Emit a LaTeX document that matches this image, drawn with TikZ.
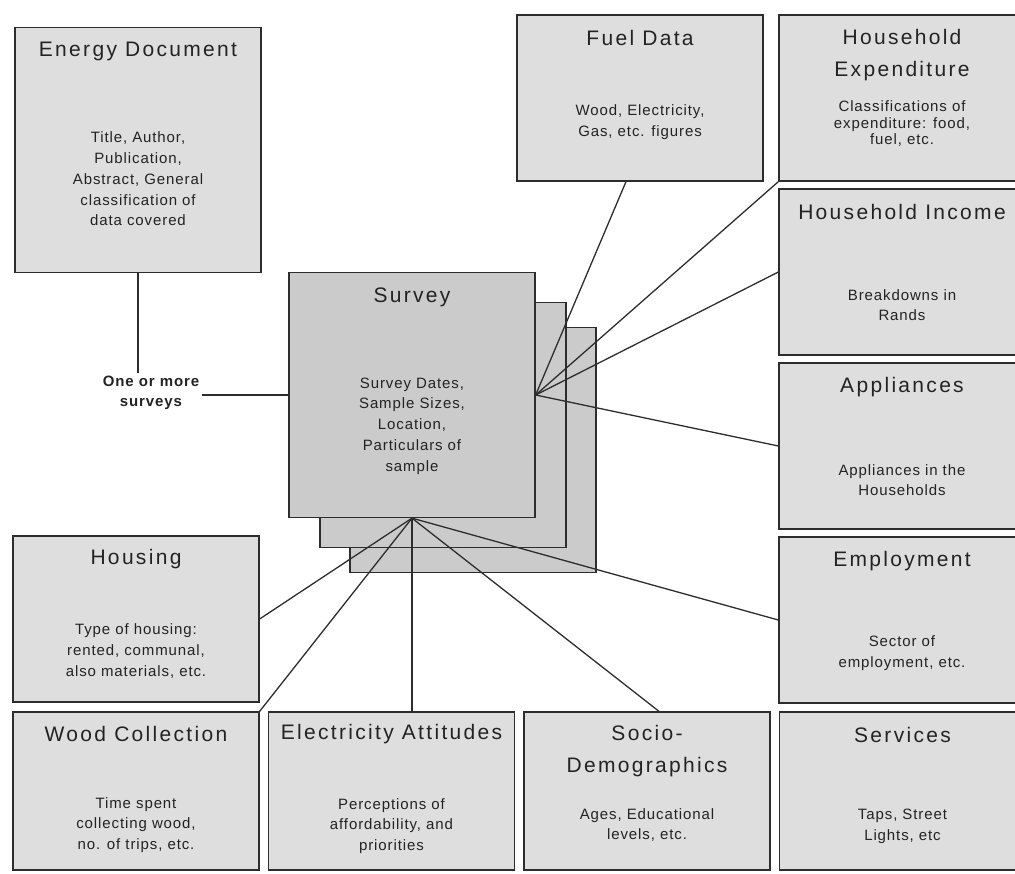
\documentclass[tikz,border=0pt]{standalone}
\usepackage{fontspec}
\setmainfont{Liberation Sans}
\newfontfamily\headfont[LetterSpace=11]{Liberation Sans}
\newfontfamily\infofont[LetterSpace=6]{Liberation Sans}
\newfontfamily\notefont[LetterSpace=6]{Liberation Sans}

\definecolor{boxfill}{RGB}{222,222,222}
\definecolor{surveyfill}{RGB}{203,203,203}
\definecolor{boxline}{RGB}{45,45,45}
\definecolor{inkgrey}{RGB}{35,35,35}

\tikzstyle{box} = [rectangle, draw=boxline, fill=boxfill, line width=1.3pt, 
minimum width=246pt, minimum height=166pt, inner sep=0pt]
\tikzstyle{lowbox} = [box, minimum height=158pt]
\tikzstyle{bigbox} = [box, minimum height=245pt]
\tikzstyle{survey} = [bigbox, fill=surveyfill]
\tikzstyle{head} = [align=center, text=inkgrey, font=\headfont\fontsize{21}{32}\selectfont]
\tikzstyle{info} = [align=center, text=inkgrey, font=\infofont\fontsize{15}{20.7}\selectfont]
\tikzstyle{tightinfo} = [info, font=\infofont\fontsize{15}{16.5}\selectfont]
\tikzstyle{note} = [align=center, text=inkgrey, inner sep=3pt, font=\notefont\bfseries\fontsize{15}{20}\selectfont]
\tikzstyle{line} = [draw=boxline, line width=1.3pt]

\begin{document}
\begin{tikzpicture}[x=1pt, y=-1pt, node distance=174pt]
	\useasboundingbox (0,0) rectangle (1015,874);
	%nodes for the document
	\node[bigbox](energy) at (138,150) {};
	\node[head](energyhead) at ([yshift=-25pt]energy.north) {Energy Document};
	\node[info](energytext) at ([yshift=-29pt]energy.center) {Title, Author,\\ Publication,\\ Abstract, General\\ classification of\\ data covered};
	\node[note](onemore) at (151,393) {One or more\\ surveys};

	%nodes for the survey stack
	\node[survey](survey3) at (473,450) {};
	\node[survey](survey2) at (443,425) {};
	\node[survey](survey) at (412,395) {};
	\node[head](surveyhead) at ([yshift=-25pt]survey.north) {Survey};
	\node[info](surveytext) at ([yshift=-31pt]survey.center) {Survey Dates,\\ Sample Sizes,\\ Location,\\ Particulars of\\ sample};

	%nodes along the top
	\node[box](fuel) at (640,98) {};
	\node[head](fuelhead) at ([yshift=-24pt]fuel.north) {Fuel Data};
	\node[info](fueltext) at ([yshift=-24pt]fuel.center) {Wood, Electricity,\\ Gas, etc. figures};

	%nodes for the right column
	\node[box](expend) at (902,98) {};
	\node[box, below of=expend](income) {};
	\node[box, below of=income](appliance) {};
	\node[box, below of=appliance](employ) {};
	\node[head](expendhead) at ([yshift=-41pt]expend.north) {Household\\ Expenditure};
	\node[tightinfo](expendtext) at ([yshift=-26pt]expend.center) {Classifications of\\ expenditure: food,\\ fuel, etc.};
	\node[head](incomehead) at ([yshift=-24pt]income.north) {Household Income};
	\node[info](incometext) at ([yshift=-33pt]income.center) {Breakdowns in\\ Rands};
	\node[head](appliancehead) at ([yshift=-25pt]appliance.north) {Appliances};
	\node[info](appliancetext) at ([yshift=-34pt]appliance.center) {Appliances in the\\ Households};
	\node[head](employhead) at ([yshift=-25pt]employ.north) {Employment};
	\node[info](employtext) at ([yshift=-33pt]employ.center) {Sector of\\ employment, etc.};

	%nodes for the left column and the bottom row
	\node[box](housing) at (136,619) {};
	\node[head](housinghead) at ([yshift=-24pt]housing.north) {Housing};
	\node[info](housingtext) at ([yshift=-32pt]housing.center) {Type of housing:\\ rented, communal,\\ also materials, etc.};
	\node[lowbox](wood) at (136,791) {};
	\node[lowbox, right of=wood, node distance=255.5pt](elec) {};
	\node[lowbox, right of=elec, node distance=255.5pt](socio) {};
	\node[lowbox, right of=socio, node distance=255.5pt](services) {};
	\node[head](woodhead) at ([yshift=-23pt]wood.north) {Wood Collection};
	\node[info](woodtext) at ([yshift=-34pt]wood.center) {Time spent\\ collecting wood,\\ no. of trips, etc.};
	\node[head](elechead) at ([yshift=-23pt]elec.north) {Electricity Attitudes};
	\node[info](electext) at ([yshift=-35pt]elec.center) {Perceptions of\\ affordability, and\\ priorities};
	\node[head](sociohead) at ([yshift=-40pt]socio.north) {Socio-\\ Demographics};
	\node[info](sociotext) at ([yshift=-34pt]socio.center) {Ages, Educational\\ levels, etc.};
	\node[head](serviceshead) at ([yshift=-24pt]services.north) {Services};
	\node[info](servicestext) at ([yshift=-35pt]services.center) {Taps, Street\\ Lights, etc};

	%edges
	\path[line] (energy.south) -- (energy.south |- onemore.north);
	\path[line] (onemore.east |- survey.west) -- (survey.west);
	\path[line] (survey.east) -- ([xshift=-14pt]fuel.south);
	\path[line] (survey.east) -- (expend.south west);
	\path[line] (survey.east) -- (income.west);
	\path[line] (survey.east) -- (appliance.west);
	\path[line] (survey.south) -- (employ.west);
	\path[line] (survey.south) -- ([xshift=12pt]socio.north);
	\path[line] (survey.south) -- (survey.south |- elec.north);
	\path[line] (survey.south) -- (wood.north east);
	\path[line] (survey.south) -- (housing.east);
\end{tikzpicture}
\end{document}
